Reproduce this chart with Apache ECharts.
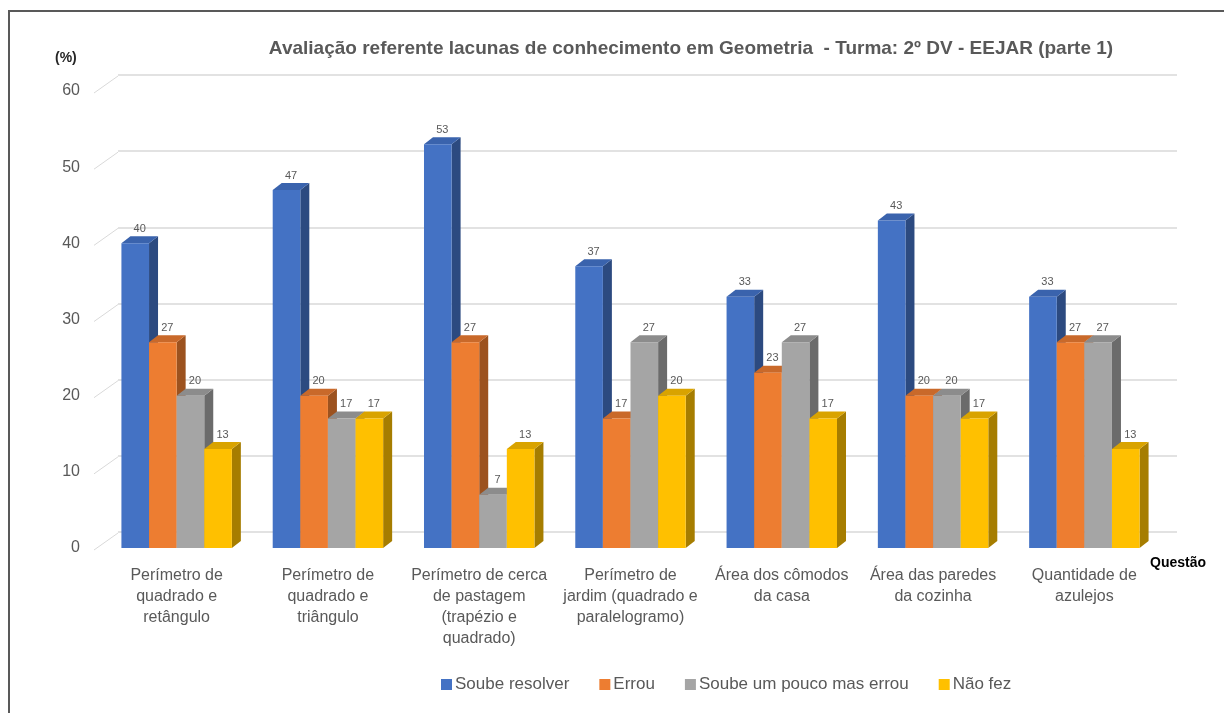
<!DOCTYPE html>
<html><head><meta charset="utf-8">
<script src="https://cdn.jsdelivr.net/npm/echarts@6/dist/echarts.min.js"></script>
<style>
html,body{margin:0;padding:0;background:#fff;}
#wrap{position:relative;width:1224px;height:713px;overflow:hidden;}
#frame{position:absolute;left:8px;top:10px;right:-10px;bottom:-10px;border-top:2px solid #595959;border-left:2px solid #595959;}
#chart{position:absolute;left:0;top:0;width:1224px;height:713px;}
</style></head>
<body><div id="wrap"><div id="frame"></div><div id="chart"></div></div>
<script>
const categories = [
  "Perímetro de\nquadrado e\nretângulo",
  "Perímetro de\nquadrado e\ntriângulo",
  "Perímetro de cerca\nde pastagem\n(trapézio e\nquadrado)",
  "Perímetro de\njardim (quadrado e\nparalelogramo)",
  "Área dos cômodos\nda casa",
  "Área das paredes\nda cozinha",
  "Quantidade de\nazulejos"
];
const seriesNames = ["Soube resolver", "Errou", "Soube um pouco mas errou", "Não fez"];
const soubeResolver = [40, 47, 53, 37, 33, 43, 33];
const errou = [27, 20, 27, 17, 23, 20, 27];
const soubePouco = [20, 17, 7, 27, 27, 20, 27];
const naoFez = [13, 17, 13, 20, 17, 17, 13];
const yTicks = [0, 10, 20, 30, 40, 50, 60];

const values = [soubeResolver, errou, soubePouco, naoFez];
const frontColors = ["#4472C4", "#ED7D31", "#A5A5A5", "#FFC000"];
const topColors = ["#3A63AD", "#C9692A", "#8C8C8C", "#D9A300"];
const sideColors = ["#2C4A80", "#9C521F", "#6B6B6B", "#A67D00"];
const FONT = "'Liberation Sans', Arial, sans-serif";
const DX = 9, DY = 7;

function barRenderer(s) {
  return function (params, api) {
    const i = api.value(0), v = api.value(1);
    const top = api.coord([i, v]);
    const base = api.coord([i, 0]);
    const band = api.size([1, 0])[0];
    const bw = band * 0.73 / 4;
    const x0 = top[0] - 2 * bw + s * bw;
    const x1 = x0 + bw;
    const yt = top[1], yb = base[1];
    return {
      type: 'group',
      children: [
        { type: 'polygon', shape: { points: [[x1, yt], [x1 + DX, yt - DY], [x1 + DX, yb - DY], [x1, yb]] },
          style: { fill: sideColors[s] } },
        { type: 'polygon', shape: { points: [[x0, yt], [x0 + DX, yt - DY], [x1 + DX, yt - DY], [x1, yt]] },
          style: { fill: topColors[s] } },
        { type: 'rect', shape: { x: x0, y: yt, width: bw, height: yb - yt },
          style: { fill: frontColors[s] } },
        { type: 'text', style: { text: String(v), x: x0 + bw / 2 + DX / 2, y: yt - DY - 2,
          textAlign: 'center', textVerticalAlign: 'bottom', fill: '#595959', font: '11px ' + FONT } }
      ]
    };
  };
}

const barSeries = seriesNames.map((name, s) => ({
  type: 'custom',
  name: name,
  xAxisIndex: 0, yAxisIndex: 0,
  itemStyle: { color: frontColors[s] },
  renderItem: barRenderer(s),
  data: values[s].map((v, i) => [i, v]),
  z: 10 + s
}));

const diagSeries = {
  type: 'custom',
  xAxisIndex: 0, yAxisIndex: 0,
  silent: true,
  renderItem: function (params, api) {
    const y = api.coord([0, api.value(0)])[1];
    const cx = params.coordSys.x;
    return { type: 'line', shape: { x1: cx - 7, y1: y + 2, x2: cx + 17, y2: y - 15 },
      style: { stroke: '#d9d9d9', lineWidth: 1 } };
  },
  data: yTicks.map(t => [t]),
  encode: { y: 0 },
  z: 1
};

const chart = echarts.init(document.getElementById('chart'), null, { renderer: 'canvas' });
chart.setOption({
  animation: false,
  backgroundColor: 'transparent',
  title: {
    text: 'Avaliação referente lacunas de conhecimento em Geometria  - Turma: 2º DV - EEJAR (parte 1)',
    left: 686, top: 34, textAlign: 'center',
    textStyle: { color: '#595959', fontSize: 19, fontWeight: 'bold', fontFamily: FONT }
  },
  legend: {
    data: seriesNames,
    bottom: 15, left: 436,
    itemWidth: 11, itemHeight: 11, itemGap: 30,
    icon: 'rect',
    textStyle: { color: '#595959', fontSize: 17, fontFamily: FONT, padding: [0, 0, 0, -2] }
  },
  graphic: [
    { type: 'text', left: 55, top: 51, style: { text: '(%)', fill: '#262626', font: 'bold 14px ' + FONT } },
    { type: 'text', left: 1150, top: 556, style: { text: 'Questão', fill: '#000', font: 'bold 14px ' + FONT } }
  ],
  grid: [
    { left: 101, right: 64, top: 91, bottom: 165 },
    { left: 118, right: 47, top: 75, bottom: 181 }
  ],
  xAxis: [
    { type: 'category', gridIndex: 0, data: categories,
      axisLine: { show: false }, axisTick: { show: false },
      axisLabel: { interval: 0, color: '#595959', fontSize: 16, lineHeight: 21, margin: 17, fontFamily: FONT, verticalAlign: 'top' } },
    { type: 'category', gridIndex: 1, data: categories, show: false }
  ],
  yAxis: [
    { type: 'value', gridIndex: 0, min: 0, max: 60, interval: 10,
      axisLine: { show: false }, axisTick: { show: false }, splitLine: { show: false },
      axisLabel: { color: '#595959', fontSize: 16, margin: 21, fontFamily: FONT } },
    { type: 'value', gridIndex: 1, min: 0, max: 60, interval: 10,
      axisLine: { show: false }, axisTick: { show: false }, axisLabel: { show: false },
      splitLine: { show: true, lineStyle: { color: '#d9d9d9', width: 1.5 } } }
  ],
  series: barSeries.concat([diagSeries])
});
</script></body></html>
